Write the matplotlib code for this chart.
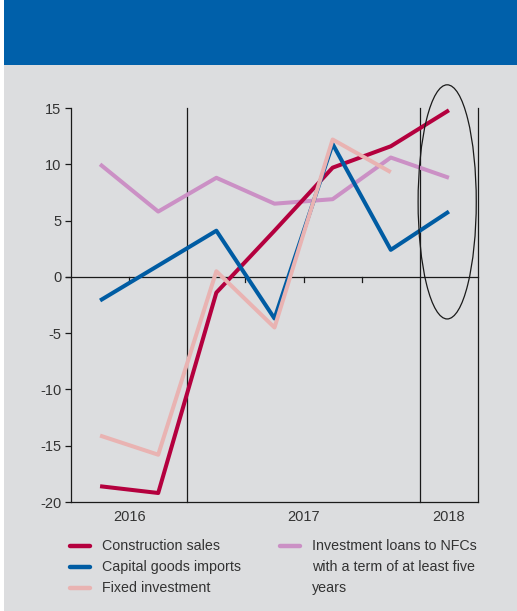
import matplotlib
matplotlib.use("Agg")
import matplotlib.pyplot as plt
from matplotlib.patches import Ellipse, Rectangle
from matplotlib.lines import Line2D

plt.rcParams['font.family'] = ['Liberation Sans', 'DejaVu Sans']

# Quarterly data, 2016 Q3 to 2018 Q1
quarters = ["2016Q3", "2016Q4", "2017Q1", "2017Q2", "2017Q3", "2017Q4", "2018Q1"]
construction_sales = [-18.6, -19.2, -1.4, 4.1, 9.7, 11.6, 14.8]
capital_goods_imports = [-2.1, 1.0, 4.1, -3.7, 11.8, 2.4, 5.8]
fixed_investment = [-14.1, -15.8, 0.5, -4.5, 12.2, 9.3]
investment_loans = [10.0, 5.8, 8.8, 6.5, 6.9, 10.6, 8.8]

year_labels = ["2016", "2017", "2018"]
yticks = [-20, -15, -10, -5, 0, 5, 10, 15]

c_constr = "#B4003E"
c_imports = "#005CA3"
c_fixed = "#E9B3B2"
c_loans = "#CB90C5"
bg = "#DCDDDF"
header = "#0060AA"
ink = "#1a1a1a"

W, H = 517, 611
fig = plt.figure(figsize=(W / 100, H / 100), dpi=100)
fig.patch.set_facecolor("white")

# panel background and header band
fig.patches.append(Rectangle((4 / W, 0), 1 - 4 / W, 1, transform=fig.transFigure,
                             facecolor=bg, edgecolor="none", zorder=-3))
fig.patches.append(Rectangle((4 / W, (H - 65) / H), 1 - 4 / W, 65 / H, transform=fig.transFigure,
                             facecolor=header, edgecolor="none", zorder=-2))

left, right, top, bottom = 71, 478, 108, 502
ax = fig.add_axes([left / W, (H - bottom) / H, (right - left) / W, (bottom - top) / H])
ax.set_facecolor("none")
ax.set_zorder(1)

x = list(range(len(quarters)))
lw = 2.9
ax.plot(x, investment_loans, color=c_loans, lw=lw, solid_capstyle="butt", zorder=3)
ax.plot(x, construction_sales, color=c_constr, lw=lw, solid_capstyle="butt", zorder=4)
ax.plot(x, capital_goods_imports, color=c_imports, lw=lw, solid_capstyle="butt", zorder=5)
ax.plot(x[:len(fixed_investment)], fixed_investment, color=c_fixed, lw=lw,
        solid_capstyle="butt", zorder=6)

ax.set_xlim(-0.5, 6.5)
ax.set_ylim(-20, 15)

# spines
for s in ["top", "right"]:
    ax.spines[s].set_visible(False)
ax.spines["left"].set_color(ink)
ax.spines["bottom"].set_color(ink)
ax.spines["left"].set_linewidth(0.9)
ax.spines["bottom"].set_linewidth(0.9)

# year separators and right frame
for xv in [1.5, 5.5, 6.5]:
    ax.axvline(xv, color=ink, lw=0.9, zorder=2, clip_on=False)

# zero line with quarter ticks
ax.plot([-0.58, 6.5], [0, 0], color=ink, lw=0.9, zorder=2, clip_on=False)
for xv in [0.5, 2.5, 3.5, 4.5]:
    ax.plot([xv, xv], [0, -0.45], color=ink, lw=0.9, zorder=2)

ax.set_yticks(yticks)
ax.set_yticklabels([str(v) for v in yticks])
ax.tick_params(axis="y", direction="out", length=4, width=0.9, color=ink,
               labelsize=10.5, labelcolor="#333333", pad=3)
ax.set_xticks([])

# year labels
for xv, lab in zip([0.5, 3.5, 6.0], year_labels):
    ax.text(xv, -20.7, lab, ha="center", va="top", fontsize=10.5, color="#333333")

# highlight around the latest quarter
ax.add_patch(Ellipse((5.97, 6.66), 1.0, 20.8, facecolor="none", edgecolor=ink,
                     lw=0.9, clip_on=False, zorder=7))

# legend
def legend_item(xl, yl, color, lines):
    fig.add_artist(Line2D([xl / W, (xl + 20) / W], [(H - yl) / H, (H - yl) / H],
                          color=color, lw=3.2, solid_capstyle="round"))
    for i, t in enumerate(lines):
        fig.text((xl + 32) / W, (H - yl - 21 * i) / H, t, ha="left", va="center",
                 fontsize=10.3, color="#333333")

legend_item(70, 546, c_constr, ["Construction sales"])
legend_item(70, 567, c_imports, ["Capital goods imports"])
legend_item(70, 588, c_fixed, ["Fixed investment"])
legend_item(280, 546, c_loans, ["Investment loans to NFCs",
                                "with a term of at least five",
                                "years"])

fig.savefig("out.png", dpi=100, facecolor=fig.get_facecolor())
